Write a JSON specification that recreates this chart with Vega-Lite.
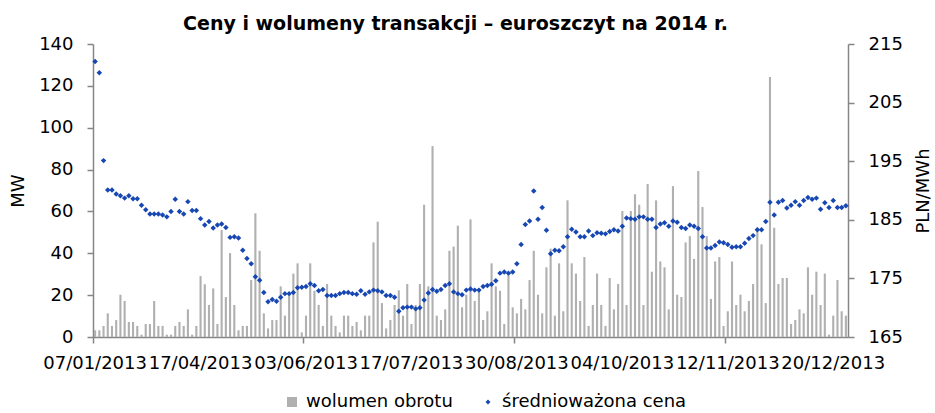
{
"$schema": "https://vega.github.io/schema/vega-lite/v6.json",
"width": 755, "height": 293,
"autosize": {"type": "none"},
"padding": {"left": 93, "top": 44, "right": 87, "bottom": 76},
"background": "white",
"title": {"text": "Ceny i wolumeny transakcji – euroszczyt na 2014 r.", "fontSize": 19, "fontWeight": "bold", "font": "DejaVu Sans", "color": "black", "anchor": "middle", "offset": 1, "dx": -15},
"config": {"view": {"stroke": null}, "font": "DejaVu Sans",
 "axis": {"grid": false, "labelFont": "DejaVu Sans", "labelFontSize": 18, "labelColor": "black", "titleFont": "DejaVu Sans", "titleFontSize": 18, "titleFontWeight": "normal", "titleColor": "black", "domainColor": "#868686", "tickColor": "#868686", "domainWidth": 1.5, "tickWidth": 1.5}},
"data": {"values": [
{"d":"07/01/2013","v":3.2,"p":212.0},{"d":"10/01/2013","v":3.2,"p":210.1},{"d":"15/01/2013","v":5.3,"p":195.1},{"d":"18/01/2013","v":11.3,"p":190.1},{"d":"22/01/2013","v":5.3,"p":190.1},{"d":"25/01/2013","v":8.1,"p":189.4},{"d":"30/01/2013","v":20.2,"p":189.1},{"d":"04/02/2013","v":17.2,"p":188.7},{"d":"07/02/2013","v":7.2,"p":189.1},{"d":"12/02/2013","v":7.2,"p":188.6},
{"d":"15/02/2013","v":5.3,"p":188.6},{"d":"20/02/2013","v":1.1,"p":187.5},{"d":"25/02/2013","v":6.2,"p":186.7},{"d":"28/02/2013","v":6.2,"p":186.0},{"d":"05/03/2013","v":17.2,"p":186.0},{"d":"08/03/2013","v":5.3,"p":186.0},{"d":"13/03/2013","v":5.3,"p":185.8},{"d":"18/03/2013","v":1.1,"p":185.5},{"d":"21/03/2013","v":1.1,"p":186.4},{"d":"26/03/2013","v":5.3,"p":188.5},
{"d":"28/03/2013","v":7.2,"p":186.4},{"d":"03/04/2013","v":5.3,"p":186.0},{"d":"08/04/2013","v":13.2,"p":188.1},{"d":"11/04/2013","v":1.1,"p":186.6},{"d":"15/04/2013","v":5.3,"p":186.6},{"d":"17/04/2013","v":29.1,"p":185.2},{"d":"18/04/2013","v":25.2,"p":184.1},{"d":"22/04/2013","v":15.3,"p":184.7},{"d":"23/04/2013","v":23.2,"p":183.6},{"d":"24/04/2013","v":6.2,"p":184.1},
{"d":"25/04/2013","v":51.1,"p":184.3},{"d":"29/04/2013","v":19.1,"p":183.7},{"d":"30/04/2013","v":40.1,"p":182.0},{"d":"02/05/2013","v":15.3,"p":182.1},{"d":"06/05/2013","v":3.2,"p":181.9},{"d":"07/05/2013","v":5.3,"p":179.8},{"d":"08/05/2013","v":5.3,"p":178.4},{"d":"09/05/2013","v":27.2,"p":177.5},{"d":"13/05/2013","v":59.1,"p":175.3},{"d":"14/05/2013","v":41.2,"p":174.7},
{"d":"15/05/2013","v":11.3,"p":172.6},{"d":"16/05/2013","v":4.1,"p":171.0},{"d":"20/05/2013","v":8.1,"p":171.4},{"d":"21/05/2013","v":8.1,"p":171.1},{"d":"22/05/2013","v":24.2,"p":171.8},{"d":"23/05/2013","v":10.2,"p":172.4},{"d":"27/05/2013","v":20.2,"p":172.4},{"d":"28/05/2013","v":30.3,"p":172.6},{"d":"29/05/2013","v":35.2,"p":173.4},{"d":"31/05/2013","v":2.2,"p":173.5},
{"d":"03/06/2013","v":10.2,"p":173.6},{"d":"04/06/2013","v":35.2,"p":174.1},{"d":"05/06/2013","v":22.1,"p":173.8},{"d":"06/06/2013","v":15.3,"p":172.9},{"d":"10/06/2013","v":5.3,"p":173.1},{"d":"11/06/2013","v":25.3,"p":172.1},{"d":"12/06/2013","v":10.2,"p":172.1},{"d":"13/06/2013","v":5.3,"p":172.1},{"d":"17/06/2013","v":2.2,"p":172.4},{"d":"18/06/2013","v":10.2,"p":172.6},
{"d":"19/06/2013","v":10.2,"p":172.6},{"d":"20/06/2013","v":5.3,"p":172.4},{"d":"24/06/2013","v":7.2,"p":172.3},{"d":"25/06/2013","v":3.2,"p":172.9},{"d":"26/06/2013","v":10.2,"p":172.3},{"d":"27/06/2013","v":10.2,"p":172.7},{"d":"02/07/2013","v":45.2,"p":173.0},{"d":"03/07/2013","v":55.1,"p":172.9},{"d":"04/07/2013","v":16.2,"p":172.7},{"d":"08/07/2013","v":4.1,"p":172.1},
{"d":"09/07/2013","v":8.1,"p":172.1},{"d":"10/07/2013","v":15.3,"p":171.8},{"d":"11/07/2013","v":22.3,"p":169.4},{"d":"15/07/2013","v":10.2,"p":170.0},{"d":"16/07/2013","v":25.3,"p":170.1},{"d":"17/07/2013","v":6.2,"p":170.1},{"d":"18/07/2013","v":15.3,"p":169.8},{"d":"22/07/2013","v":25.3,"p":170.0},{"d":"23/07/2013","v":63.2,"p":171.3},{"d":"24/07/2013","v":24.2,"p":172.5},
{"d":"25/07/2013","v":91.2,"p":173.1},{"d":"29/07/2013","v":10.2,"p":172.8},{"d":"30/07/2013","v":8.1,"p":173.1},{"d":"31/07/2013","v":13.2,"p":173.8},{"d":"01/08/2013","v":41.2,"p":174.1},{"d":"05/08/2013","v":43.2,"p":172.7},{"d":"06/08/2013","v":53.2,"p":172.4},{"d":"07/08/2013","v":14.2,"p":172.2},{"d":"08/08/2013","v":20.2,"p":173.0},{"d":"12/08/2013","v":56.2,"p":173.2},
{"d":"13/08/2013","v":17.2,"p":173.0},{"d":"14/08/2013","v":22.1,"p":173.0},{"d":"19/08/2013","v":8.1,"p":173.6},{"d":"20/08/2013","v":12.3,"p":173.8},{"d":"21/08/2013","v":35.2,"p":174.0},{"d":"22/08/2013","v":24.2,"p":174.6},{"d":"26/08/2013","v":22.1,"p":175.9},{"d":"27/08/2013","v":6.2,"p":176.1},{"d":"28/08/2013","v":30.3,"p":175.9},{"d":"29/08/2013","v":14.2,"p":176.1},
{"d":"30/08/2013","v":11.3,"p":177.5},{"d":"02/09/2013","v":18.2,"p":180.8},{"d":"03/09/2013","v":13.2,"p":184.2},{"d":"04/09/2013","v":27.2,"p":184.8},{"d":"05/09/2013","v":41.2,"p":189.9},{"d":"06/09/2013","v":20.2,"p":185.1},{"d":"09/09/2013","v":11.3,"p":187.1},{"d":"10/09/2013","v":33.3,"p":183.2},{"d":"11/09/2013","v":42.2,"p":179.2},{"d":"12/09/2013","v":10.2,"p":179.8},
{"d":"13/09/2013","v":35.2,"p":179.7},{"d":"16/09/2013","v":12.3,"p":180.4},{"d":"17/09/2013","v":65.3,"p":182.1},{"d":"18/09/2013","v":35.2,"p":183.4},{"d":"19/09/2013","v":30.3,"p":182.9},{"d":"20/09/2013","v":17.2,"p":182.1},{"d":"23/09/2013","v":38.2,"p":182.1},{"d":"24/09/2013","v":5.3,"p":183.1},{"d":"25/09/2013","v":15.3,"p":182.3},{"d":"26/09/2013","v":30.3,"p":182.8},
{"d":"27/09/2013","v":15.3,"p":182.7},{"d":"30/09/2013","v":5.3,"p":182.6},{"d":"01/10/2013","v":28.2,"p":183.0},{"d":"02/10/2013","v":13.2,"p":183.3},{"d":"03/10/2013","v":25.3,"p":183.1},{"d":"04/10/2013","v":60.2,"p":183.9},{"d":"07/10/2013","v":15.3,"p":185.3},{"d":"08/10/2013","v":60.2,"p":185.2},{"d":"09/10/2013","v":68.2,"p":185.1},{"d":"10/10/2013","v":63.2,"p":185.5},
{"d":"11/10/2013","v":15.3,"p":185.5},{"d":"14/10/2013","v":73.1,"p":185.1},{"d":"15/10/2013","v":31.2,"p":185.1},{"d":"16/10/2013","v":65.3,"p":183.7},{"d":"17/10/2013","v":36.1,"p":184.3},{"d":"18/10/2013","v":33.3,"p":184.5},{"d":"21/10/2013","v":13.2,"p":183.9},{"d":"22/10/2013","v":72.1,"p":184.8},{"d":"23/10/2013","v":20.2,"p":184.6},{"d":"24/10/2013","v":19.1,"p":183.7},
{"d":"25/10/2013","v":45.2,"p":183.5},{"d":"28/10/2013","v":48.2,"p":184.1},{"d":"29/10/2013","v":37.3,"p":183.9},{"d":"30/10/2013","v":79.3,"p":183.5},{"d":"31/10/2013","v":62.1,"p":182.1},{"d":"04/11/2013","v":48.2,"p":180.2},{"d":"05/11/2013","v":18.2,"p":180.2},{"d":"06/11/2013","v":36.1,"p":180.6},{"d":"07/11/2013","v":38.2,"p":181.2},{"d":"08/11/2013","v":5.3,"p":181.1},
{"d":"12/11/2013","v":12.3,"p":180.8},{"d":"13/11/2013","v":36.1,"p":180.3},{"d":"14/11/2013","v":15.3,"p":180.4},{"d":"18/11/2013","v":20.2,"p":180.4},{"d":"19/11/2013","v":12.3,"p":181.0},{"d":"20/11/2013","v":17.2,"p":181.8},{"d":"21/11/2013","v":25.3,"p":182.3},{"d":"22/11/2013","v":52.2,"p":183.3},{"d":"25/11/2013","v":44.3,"p":183.3},{"d":"26/11/2013","v":16.2,"p":184.7},
{"d":"27/11/2013","v":124.2,"p":188.0},{"d":"28/11/2013","v":52.2,"p":185.8},{"d":"02/12/2013","v":25.3,"p":188.0},{"d":"03/12/2013","v":28.2,"p":188.3},{"d":"04/12/2013","v":28.2,"p":187.0},{"d":"05/12/2013","v":6.2,"p":187.5},{"d":"06/12/2013","v":8.1,"p":188.1},{"d":"09/12/2013","v":13.2,"p":187.5},{"d":"10/12/2013","v":11.3,"p":188.3},{"d":"11/12/2013","v":33.3,"p":188.8},
{"d":"12/12/2013","v":20.2,"p":188.5},{"d":"16/12/2013","v":31.2,"p":188.7},{"d":"17/12/2013","v":15.3,"p":186.8},{"d":"18/12/2013","v":30.3,"p":187.9},{"d":"19/12/2013","v":1.1,"p":187.1},{"d":"20/12/2013","v":10.2,"p":188.3},{"d":"23/12/2013","v":27.2,"p":187.1},{"d":"27/12/2013","v":12.3,"p":187.1},{"d":"30/12/2013","v":10.2,"p":187.4}
]},
"layer": [
 {"mark": {"type": "bar", "width": {"band": 0.5}},
  "encoding": {
   "x": {"field": "d", "type": "ordinal", "sort": null, "scale": {"paddingInner": 0, "paddingOuter": 0},
         "axis": {"orient": "bottom", "values": ["07/01/2013","17/04/2013","03/06/2013","17/07/2013","30/08/2013","04/10/2013","12/11/2013","20/12/2013"], "ticks": false, "labelPadding": 17, "labelOverlap": false, "labelBound": false, "labelFlush": false, "labelAngle": 0, "title": null}},
   "y": {"field": "v", "type": "quantitative", "scale": {"domain": [0, 140]},
         "axis": {"orient": "left", "values": [0,20,40,60,80,100,120,140], "tickSize": 6, "labelPadding": 14, "title": "MW", "titlePadding": 11}},
   "color": {"datum": "wolumen obrotu", "scale": {"domain": ["wolumen obrotu", "średnioważona cena"], "range": ["#b0b0b0", "#1747b3"]},
             "legend": {"orient": "none", "legendX": 190, "legendY": 349, "direction": "horizontal", "title": null, "labelFontSize": 18, "labelFont": "DejaVu Sans", "labelColor": "black", "labelLimit": 0, "symbolSize": 100, "columnPadding": 26, "labelOffset": 5, "symbolStrokeWidth": 0,
                        "encode": {"symbols": {"update": {"shape": {"signal": "datum.value === 'wolumen obrotu' ? 'square' : 'diamond'"}, "size": {"signal": "datum.value === 'wolumen obrotu' ? 100 : 25"}}}}}}
  }},
 {"mark": {"type": "point", "shape": "diamond", "filled": true, "size": 30, "opacity": 1},
  "encoding": {
   "x": {"field": "d", "type": "ordinal", "sort": null,
         "axis": {"orient": "bottom", "values": ["07/01/2013","03/06/2013","30/08/2013","12/11/2013"], "bandPosition": 0, "labels": false, "ticks": true, "tickSize": 6, "domain": false, "title": null}},
   "y": {"field": "p", "type": "quantitative", "scale": {"domain": [165, 215], "zero": false},
         "axis": {"orient": "right", "values": [165,175,185,195,205,215], "tickSize": 6, "labelPadding": 14, "title": "PLN/MWh", "titleAngle": -90, "titleBaseline": "top", "titlePadding": 12}},
   "color": {"datum": "średnioważona cena"}
  }}
],
"resolve": {"scale": {"y": "independent"}, "axis": {"x": "independent", "y": "independent"}}
}
